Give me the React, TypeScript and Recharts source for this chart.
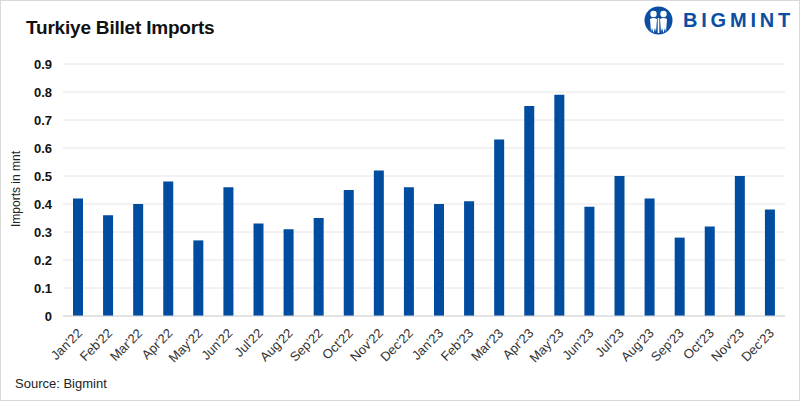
import React from 'react';
import { BarChart, Bar, XAxis, YAxis, CartesianGrid } from 'recharts';

// Turkiye billet imports, million tonnes
const months = [
  "Jan'22", "Feb'22", "Mar'22", "Apr'22", "May'22", "Jun'22",
  "Jul'22", "Aug'22", "Sep'22", "Oct'22", "Nov'22", "Dec'22",
  "Jan'23", "Feb'23", "Mar'23", "Apr'23", "May'23", "Jun'23",
  "Jul'23", "Aug'23", "Sep'23", "Oct'23", "Nov'23", "Dec'23",
];
const imports = [
  0.42, 0.36, 0.4, 0.48, 0.27, 0.46, 0.33, 0.31, 0.35, 0.45, 0.52, 0.46,
  0.4, 0.41, 0.63, 0.75, 0.79, 0.39, 0.5, 0.42, 0.28, 0.32, 0.5, 0.38,
];
const yTicks = [0, 0.1, 0.2, 0.3, 0.4, 0.5, 0.6, 0.7, 0.8, 0.9];

const data = months.map((m, i) => ({ month: m, value: imports[i] }));

const FONT = 'Arial, "Liberation Sans", sans-serif';
const BLUE = '#004c9f';

function MonthTick({ x, y, payload }: any) {
  return (
    <text
      x={x + 5}
      y={y + 10}
      transform={`rotate(-45, ${x + 5}, ${y + 10})`}
      textAnchor="end"
      fontSize={13}
      fill="#333"
      fontFamily={FONT}
    >
      {payload.value}
    </text>
  );
}

function Logo() {
  return (
    <div style={{ position: 'absolute', left: 643, top: 5, display: 'flex', alignItems: 'center' }}>
      <svg width={29} height={29} viewBox="0 0 29 29">
        <circle cx={14.5} cy={14.5} r={14} fill="#0b4ea2" />
        <circle cx={9.5} cy={8} r={3.2} fill="#fff" />
        <circle cx={19.5} cy={8} r={3.2} fill="#fff" />
        <path d="M6 13 Q9.5 11 13 13 L12 26 L11 22 L9.5 27 L8 22 L7 26 Z" fill="#fff" />
        <path d="M16 13 Q19.5 11 23 13 L22 26 L21 22 L19.5 27 L18 22 L17 26 Z" fill="#fff" />
        <rect x={13.7} y={12} width={1.6} height={15} fill="#fff" />
      </svg>
      <span
        style={{
          marginLeft: 10,
          fontFamily: FONT,
          fontWeight: 700,
          fontSize: 20,
          letterSpacing: 3.8,
          color: '#0b4ea2',
        }}
      >
        BIGMINT
      </span>
    </div>
  );
}

export default function App() {
  return (
    <div
      style={{
        position: 'fixed',
        left: 0,
        top: 0,
        width: 800,
        height: 401,
        boxSizing: 'border-box',
        border: '1px solid #d9d9d9',
        background: '#fff',
        fontFamily: FONT,
        overflow: 'hidden',
      }}
    >
      <div
        style={{
          position: 'absolute',
          left: 25,
          top: 16,
          fontSize: 19,
          fontWeight: 700,
          letterSpacing: -0.2,
          color: '#111',
        }}
      >
        Turkiye Billet Imports
      </div>
      <Logo />
      <div
        style={{
          position: 'absolute',
          left: 15,
          top: 188,
          transform: 'translate(-50%, -50%) rotate(-90deg)',
          fontSize: 12,
          color: '#222',
          whiteSpace: 'nowrap',
        }}
      >
        Imports in mnt
      </div>
      <div
        style={{
          position: 'absolute',
          left: 14,
          top: 375,
          fontSize: 13,
          color: '#222',
        }}
      >
        Source: Bigmint
      </div>
      <div style={{ position: 'absolute', left: -1, top: -1 }}>
        <BarChart
          width={800}
          height={401}
          data={data}
          margin={{ top: 64, right: 15, bottom: 25, left: 0 }}
          barSize={10}
        >
          <CartesianGrid vertical={false} stroke="#e6e6e6" />
          <XAxis
            dataKey="month"
            interval={0}
            height={60}
            tickLine={false}
            axisLine={{ stroke: '#d4d4d4' }}
            tick={<MonthTick />}
          />
          <YAxis
            width={63}
            domain={[0, 0.9]}
            ticks={yTicks}
            tickFormatter={(v: number) => (v === 0 ? '0' : v.toFixed(1))}
            axisLine={false}
            tickLine={false}
            tickMargin={5}
            tick={{ fontSize: 13, fontWeight: 700, fill: '#111', fontFamily: FONT }}
          />
          <Bar dataKey="value" fill={BLUE} isAnimationActive={false} />
        </BarChart>
      </div>
    </div>
  );
}
